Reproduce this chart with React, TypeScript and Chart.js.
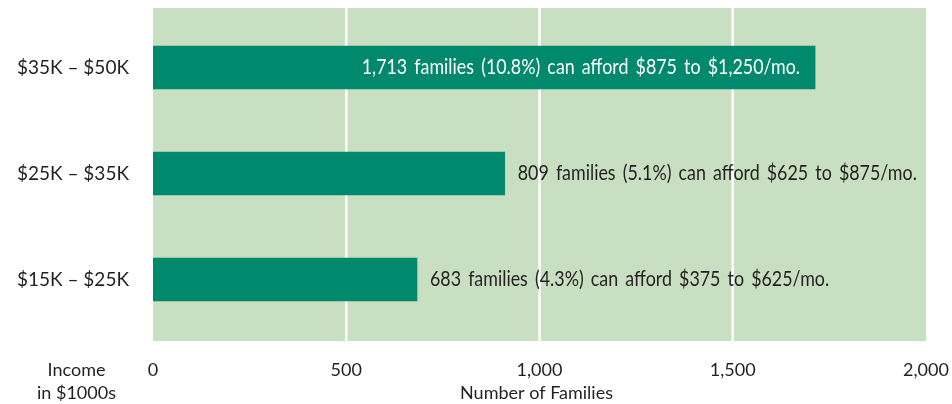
import React, { useEffect, useRef } from "react";
import { Chart, registerables } from "chart.js";

Chart.register(...registerables);

const categories = ["$35K – $50K", "$25K – $35K", "$15K – $25K"];
const families = [1713, 910, 683];
const barLabels = [
  "1,713 families (10.8%) can afford $875 to $1,250/mo.",
  "809 families (5.1%) can afford $625 to $875/mo.",
  "683 families (4.3%) can afford $375 to $625/mo.",
];
const xMin = 0;
const xMax = 2000;
const xStep = 500;
const xTitle = "Number of Families";
const yTitle = ["Income", "in $1000s"];

const BG = "#c8e0c1";
const BAR = "#00896c";
const TEXT = "#231f20";
const FONT = "Lato";

const backgroundPlugin = {
  id: "bgGrid",
  beforeDatasetsDraw(chart: any) {
    const { ctx, chartArea, scales } = chart;
    const top = chartArea.top - 6.5;
    const bottom = chartArea.bottom + 8.5;
    const left = scales.x.getPixelForValue(xMin);
    const right = scales.x.getPixelForValue(xMax);
    ctx.save();
    ctx.fillStyle = BG;
    ctx.fillRect(left, top, right - left, bottom - top);
    ctx.strokeStyle = "#ffffff";
    ctx.lineWidth = 2.5;
    for (let v = xMin + xStep; v < xMax; v += xStep) {
      const x = scales.x.getPixelForValue(v);
      ctx.beginPath();
      ctx.moveTo(x, top);
      ctx.lineTo(x, bottom);
      ctx.stroke();
    }
    ctx.restore();
  },
};

const labelPlugin = {
  id: "barLabels",
  afterDatasetsDraw(chart: any) {
    const { ctx } = chart;
    const meta = chart.getDatasetMeta(0);
    const sx = 0.85;
    ctx.save();
    ctx.font = `21px ${FONT}`;
    (ctx as any).wordSpacing = "3px";
    ctx.textBaseline = "middle";
    ctx.textAlign = "left";
    meta.data.forEach((el: any, i: number) => {
      const text = barLabels[i];
      const w = ctx.measureText(text).width * sx;
      const barW = el.x - el.base;
      let x0: number;
      if (w + 40 < barW) {
        x0 = el.x - 15 - w;
        ctx.fillStyle = "#ffffff";
      } else {
        x0 = el.x + 13;
        ctx.fillStyle = TEXT;
      }
      ctx.save();
      ctx.translate(x0, el.y);
      ctx.scale(sx, 1);
      ctx.fillText(text, 0, 0);
      ctx.restore();
    });
    ctx.restore();
  },
  afterDraw(chart: any) {
    const { ctx, chartArea, scales } = chart;
    ctx.save();
    ctx.font = `18px ${FONT}`;
    ctx.fillStyle = TEXT;
    ctx.textAlign = "center";
    ctx.textBaseline = "middle";
    const cx = chartArea.left / 2;
    ctx.fillText(yTitle[0], cx, chartArea.bottom + 37.5);
    ctx.fillText(yTitle[1], cx, chartArea.bottom + 60.5);
    const mid = (scales.x.getPixelForValue(xMin) + scales.x.getPixelForValue(xMax)) / 2;
    ctx.fillText(xTitle, mid - 3, chartArea.bottom + 60.5);
    ctx.restore();
  },
};

export default function App() {
  const ref = useRef<HTMLCanvasElement | null>(null);
  useEffect(() => {
    if (!ref.current) return;
    const chart = new Chart(ref.current, {
      type: "bar",
      data: {
        labels: categories,
        datasets: [
          {
            data: families,
            backgroundColor: BAR,
            borderWidth: 0,
            barThickness: 43,
          },
        ],
      },
      options: {
        indexAxis: "y",
        animation: false,
        responsive: false,
        devicePixelRatio: 1,
        layout: { padding: { top: 14.5, right: 26, left: 0, bottom: 0 } },
        plugins: { legend: { display: false }, tooltip: { enabled: false } },
        scales: {
          x: {
            type: "linear",
            min: xMin,
            max: xMax,
            grid: { display: false, drawTicks: false },
            border: { display: false },
            ticks: {
              stepSize: xStep,
              autoSkip: false,
              maxRotation: 0,
              padding: 27,
              color: TEXT,
              font: { family: FONT, size: 18 },
              callback: (v: any) => Number(v).toLocaleString("en-US"),
            },
            afterFit: (scale: any) => {
              scale.height = 71.5;
              scale.paddingLeft = 0;
              scale.paddingRight = 0;
            },
          },
          y: {
            type: "category",
            grid: { display: false, drawTicks: false },
            border: { display: false },
            ticks: {
              padding: 24,
              color: TEXT,
              font: { family: FONT, size: 19 },
            },
            afterFit: (scale: any) => {
              scale.width = 153;
              scale.paddingTop = 0;
              scale.paddingBottom = 0;
            },
          },
        },
      },
      plugins: [backgroundPlugin, labelPlugin],
    } as any);
    return () => chart.destroy();
  }, []);
  return (
    <div style={{ position: "fixed", left: 0, top: 0, width: 952, height: 404, background: "#fff" }}>
      <canvas ref={ref} width={952} height={404} style={{ width: 952, height: 404, display: "block" }} />
    </div>
  );
}
